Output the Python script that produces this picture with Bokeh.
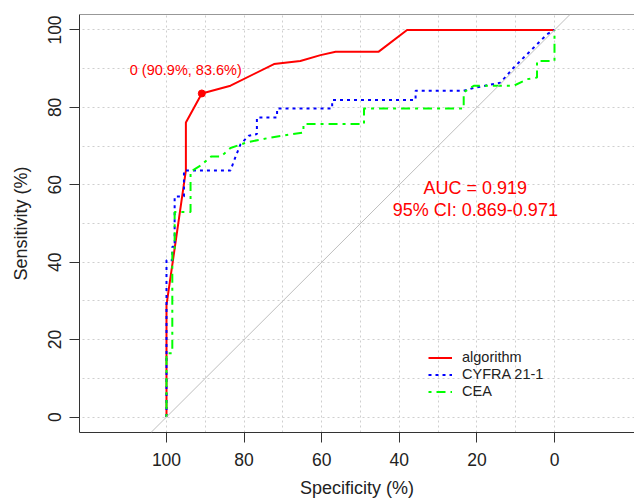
from bokeh.plotting import figure
from bokeh.models import Range1d, FixedTicker, Span, Slope, Label, Legend, LegendItem
from bokeh.embed import file_html
from bokeh.resources import INLINE

# ---- data ----
series_names = ["algorithm", "CYFRA 21-1", "CEA"]

algo_spec = [100, 100, 95.0, 95.0, 90.9, 83.5, 72.3, 65.5, 60.3, 56.4, 45.3, 38.0, 0]
algo_sens = [0, 28.9, 63.7, 76.1, 83.6, 85.6, 91.2, 92.0, 93.5, 94.4, 94.4, 100, 100]

cyfra_spec = [100, 100, 98.5, 98.5, 97.9, 97.9, 95.5, 95.5, 83.5, 82.6, 80.9, 78.8, 76.7, 76.7,
              71.5, 71.5, 57.3, 57.3, 35.8, 35.8, 23.4, 20.9, 13.9, 10.5, 6.2, 1.9, 0]
cyfra_sens = [0, 40.5, 40.5, 44.0, 44.0, 57.0, 57.0, 63.7, 63.7, 66.2, 70.5, 72.7, 73.1, 77.4,
              77.4, 79.7, 79.7, 81.9, 81.9, 84.3, 84.3, 85.0, 86.4, 90.3, 94.6, 98.9, 100]

cea_spec = [100, 100, 98.5, 98.5, 97.9, 97.9, 93.8, 93.8, 91.2, 88.5, 86.0, 83.5, 79.2, 73.2,
            67.5, 64.7, 64.7, 49.1, 49.1, 23.4, 23.4, 20.8, 10.5, 7.0, 4.5, 4.5, 0, 0]
cea_sens = [0, 16.5, 16.5, 43.0, 43.0, 53.0, 53.0, 63.4, 65.0, 67.3, 67.3, 69.5, 71.0, 72.2,
            73.1, 73.5, 75.7, 75.7, 79.7, 79.7, 83.9, 85.6, 85.6, 87.3, 87.7, 92.0, 92.0, 100]

thr_value = 0
thr_spec = 90.9
thr_sens = 83.6

auc_value = 0.919
ci_low = 0.869
ci_high = 0.971

x_ticks = [100, 80, 60, 40, 20, 0]
y_ticks = [0, 20, 40, 60, 80, 100]
grid_ticks = [0, 10, 20, 30, 40, 50, 60, 70, 80, 90, 100]

FONT = "Liberation Sans"
AXIS_COL = "#333333"
TEXT_COL = "#222222"

p = figure(width=634, height=500, output_backend="svg", toolbar_location=None,
           x_range=Range1d(122.42, -20.62), y_range=Range1d(-4, 104),
           min_border_left=79, min_border_top=14, min_border_bottom=67, min_border_right=0)
p.outline_line_color = None
p.background_fill_color = "white"
p.border_fill_color = "white"

# grid
for g in (p.xgrid, p.ygrid):
    g.ticker = FixedTicker(ticks=grid_ticks)
    g.grid_line_color = "#cfcfcf"
    g.grid_line_dash = [2, 3]
    g.grid_line_width = 1

# axes
for ax in (p.xaxis, p.yaxis):
    ax.minor_tick_line_color = None
    ax.major_tick_out = 10
    ax.major_tick_in = 0
    ax.axis_line_color = AXIS_COL
    ax.major_tick_line_color = AXIS_COL
    ax.major_label_text_font = FONT
    ax.major_label_text_font_size = "17.5px"
    ax.major_label_text_color = TEXT_COL
    ax.axis_label_text_font = FONT
    ax.axis_label_text_font_size = "18px"
    ax.axis_label_text_font_style = "normal"
    ax.axis_label_text_color = TEXT_COL

p.xaxis.ticker = FixedTicker(ticks=x_ticks)
p.yaxis.ticker = FixedTicker(ticks=y_ticks)
p.xaxis.axis_label = "Specificity (%)"
p.yaxis.axis_label = "Sensitivity (%)"
p.yaxis.major_label_orientation = "vertical"
p.xaxis.major_label_standoff = 10
p.xaxis.axis_label_standoff = 9
p.yaxis.major_label_standoff = 8
p.yaxis.axis_label_standoff = 15

# top border line
p.add_layout(Span(location=104, dimension="width", line_color=AXIS_COL, line_width=1))

# chance diagonal
p.add_layout(Slope(gradient=-1, y_intercept=100, line_color="#BEBEBE", line_width=1))

# curves
r_algo = p.line(algo_spec, algo_sens, line_color="#FF0000", line_width=2)
r_cyfra = p.line(cyfra_spec, cyfra_sens, line_color="#0000FF", line_width=2, line_dash=[3, 4])
r_cea = p.line(cea_spec, cea_sens, line_color="#00FF00", line_width=2, line_dash=[3, 5, 9, 5])

# threshold point and text
p.scatter([thr_spec], [thr_sens], size=7, color="#FF0000")
p.add_layout(Label(x=thr_spec, y=thr_sens, x_offset=-16, y_offset=23.5,
                   text=f"{thr_value} ({thr_spec:.1f}%, {thr_sens:.1f}%)",
                   text_align="center", text_baseline="middle", text_color="#FF0000",
                   text_font=FONT, text_font_size="14.5px"))

# AUC text
auc_x, auc_y = 20.4, 59.3
p.add_layout(Label(x=auc_x, y=auc_y, text=f"AUC = {auc_value:.3f}",
                   text_align="center", text_baseline="middle", text_color="#FF0000",
                   text_font=FONT, text_font_size="18px"))
p.add_layout(Label(x=auc_x, y=auc_y, y_offset=-22,
                   text=f"95% CI: {ci_low:.3f}-{ci_high:.3f}",
                   text_align="center", text_baseline="middle", text_color="#FF0000",
                   text_font=FONT, text_font_size="18px"))

# legend
legend = Legend(items=[LegendItem(label=n, renderers=[r])
                       for n, r in zip(series_names, [r_algo, r_cyfra, r_cea])],
                location=(349, 33), padding=0, margin=0, spacing=1,
                glyph_width=24, glyph_height=15, label_height=15, label_standoff=10,
                border_line_color=None, background_fill_alpha=0,
                label_text_font=FONT, label_text_font_size="14.5px", label_text_color=TEXT_COL)
p.add_layout(legend)

open("out.html", "w").write(file_html(p, INLINE))
